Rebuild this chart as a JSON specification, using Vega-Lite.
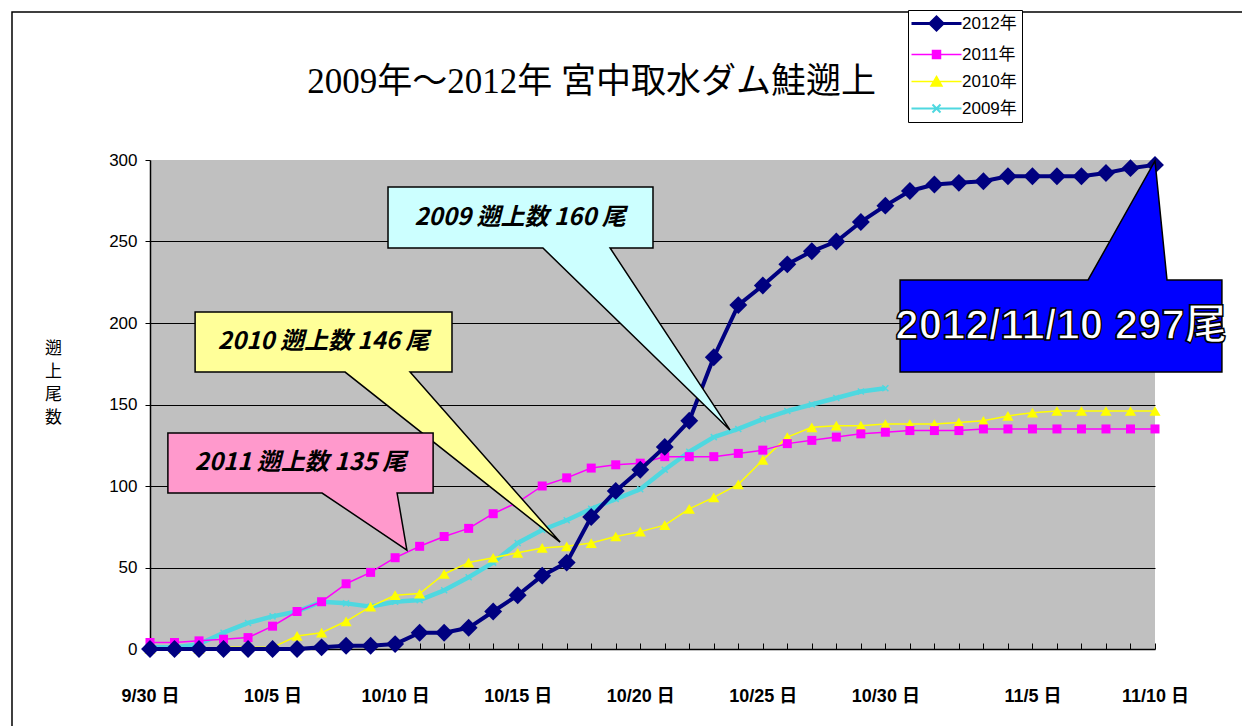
{
  "$schema": "https://vega.github.io/schema/vega-lite/v6.json",
  "width": 1005,
  "height": 489,
  "autosize": {"type": "none"},
  "padding": {"left": 150, "top": 160, "right": 87, "bottom": 77},
  "background": "white",
  "config": {
    "view": {"fill": "#C0C0C0", "stroke": null},
    "font": "Liberation Sans, Noto Sans CJK JP"
  },
  "title": {
    "text": "2009年～2012年 宮中取水ダム鮭遡上",
    "anchor": "middle",
    "dx": -61,
    "offset": -90,
    "font": "Liberation Serif, Noto Sans CJK JP",
    "fontSize": 35,
    "fontWeight": "normal",
    "color": "black"
  },
  "resolve": {"axis": {"x": "independent"}},
  "datasets": {
    "series": [
      {"series": "2012年", "day": 0, "count": 0}, {"series": "2012年", "day": 1, "count": 0}, {"series": "2012年", "day": 2, "count": 0}, {"series": "2012年", "day": 3, "count": 0}, {"series": "2012年", "day": 4, "count": 0}, {"series": "2012年", "day": 5, "count": 0}, {"series": "2012年", "day": 6, "count": 0}, {"series": "2012年", "day": 7, "count": 1}, {"series": "2012年", "day": 8, "count": 2}, {"series": "2012年", "day": 9, "count": 2},
      {"series": "2012年", "day": 10, "count": 3}, {"series": "2012年", "day": 11, "count": 10}, {"series": "2012年", "day": 12, "count": 10}, {"series": "2012年", "day": 13, "count": 13}, {"series": "2012年", "day": 14, "count": 23}, {"series": "2012年", "day": 15, "count": 33}, {"series": "2012年", "day": 16, "count": 45}, {"series": "2012年", "day": 17, "count": 53}, {"series": "2012年", "day": 18, "count": 81}, {"series": "2012年", "day": 19, "count": 97},
      {"series": "2012年", "day": 20, "count": 110}, {"series": "2012年", "day": 21, "count": 124}, {"series": "2012年", "day": 22, "count": 140}, {"series": "2012年", "day": 23, "count": 179}, {"series": "2012年", "day": 24, "count": 211}, {"series": "2012年", "day": 25, "count": 223}, {"series": "2012年", "day": 26, "count": 236}, {"series": "2012年", "day": 27, "count": 244}, {"series": "2012年", "day": 28, "count": 250}, {"series": "2012年", "day": 29, "count": 262},
      {"series": "2012年", "day": 30, "count": 272}, {"series": "2012年", "day": 31, "count": 281}, {"series": "2012年", "day": 32, "count": 285}, {"series": "2012年", "day": 33, "count": 286}, {"series": "2012年", "day": 34, "count": 287}, {"series": "2012年", "day": 35, "count": 290}, {"series": "2012年", "day": 36, "count": 290}, {"series": "2012年", "day": 37, "count": 290}, {"series": "2012年", "day": 38, "count": 290}, {"series": "2012年", "day": 39, "count": 292},
      {"series": "2012年", "day": 40, "count": 295}, {"series": "2012年", "day": 41, "count": 297},
      {"series": "2011年", "day": 0, "count": 4}, {"series": "2011年", "day": 1, "count": 4}, {"series": "2011年", "day": 2, "count": 5}, {"series": "2011年", "day": 3, "count": 6}, {"series": "2011年", "day": 4, "count": 7}, {"series": "2011年", "day": 5, "count": 14}, {"series": "2011年", "day": 6, "count": 23}, {"series": "2011年", "day": 7, "count": 29}, {"series": "2011年", "day": 8, "count": 40}, {"series": "2011年", "day": 9, "count": 47},
      {"series": "2011年", "day": 10, "count": 56}, {"series": "2011年", "day": 11, "count": 63}, {"series": "2011年", "day": 12, "count": 69}, {"series": "2011年", "day": 13, "count": 74}, {"series": "2011年", "day": 14, "count": 83}, {"series": "2011年", "day": 15, "count": 90}, {"series": "2011年", "day": 16, "count": 100}, {"series": "2011年", "day": 17, "count": 105}, {"series": "2011年", "day": 18, "count": 111}, {"series": "2011年", "day": 19, "count": 113},
      {"series": "2011年", "day": 20, "count": 114}, {"series": "2011年", "day": 21, "count": 118}, {"series": "2011年", "day": 22, "count": 118}, {"series": "2011年", "day": 23, "count": 118}, {"series": "2011年", "day": 24, "count": 120}, {"series": "2011年", "day": 25, "count": 122}, {"series": "2011年", "day": 26, "count": 126}, {"series": "2011年", "day": 27, "count": 128}, {"series": "2011年", "day": 28, "count": 130}, {"series": "2011年", "day": 29, "count": 132},
      {"series": "2011年", "day": 30, "count": 133}, {"series": "2011年", "day": 31, "count": 134}, {"series": "2011年", "day": 32, "count": 134}, {"series": "2011年", "day": 33, "count": 134}, {"series": "2011年", "day": 34, "count": 135}, {"series": "2011年", "day": 35, "count": 135}, {"series": "2011年", "day": 36, "count": 135}, {"series": "2011年", "day": 37, "count": 135}, {"series": "2011年", "day": 38, "count": 135}, {"series": "2011年", "day": 39, "count": 135},
      {"series": "2011年", "day": 40, "count": 135}, {"series": "2011年", "day": 41, "count": 135},
      {"series": "2010年", "day": 0, "count": 0}, {"series": "2010年", "day": 1, "count": 0}, {"series": "2010年", "day": 2, "count": 0}, {"series": "2010年", "day": 3, "count": 1}, {"series": "2010年", "day": 4, "count": 1}, {"series": "2010年", "day": 5, "count": 1}, {"series": "2010年", "day": 6, "count": 8}, {"series": "2010年", "day": 7, "count": 10}, {"series": "2010年", "day": 8, "count": 17}, {"series": "2010年", "day": 9, "count": 26},
      {"series": "2010年", "day": 10, "count": 33}, {"series": "2010年", "day": 11, "count": 34}, {"series": "2010年", "day": 12, "count": 46}, {"series": "2010年", "day": 13, "count": 53}, {"series": "2010年", "day": 14, "count": 56}, {"series": "2010年", "day": 15, "count": 59}, {"series": "2010年", "day": 16, "count": 62}, {"series": "2010年", "day": 17, "count": 63}, {"series": "2010年", "day": 18, "count": 65}, {"series": "2010年", "day": 19, "count": 69},
      {"series": "2010年", "day": 20, "count": 72}, {"series": "2010年", "day": 21, "count": 76}, {"series": "2010年", "day": 22, "count": 86}, {"series": "2010年", "day": 23, "count": 93}, {"series": "2010年", "day": 24, "count": 101}, {"series": "2010年", "day": 25, "count": 116}, {"series": "2010年", "day": 26, "count": 130}, {"series": "2010年", "day": 27, "count": 136}, {"series": "2010年", "day": 28, "count": 137}, {"series": "2010年", "day": 29, "count": 137},
      {"series": "2010年", "day": 30, "count": 138}, {"series": "2010年", "day": 31, "count": 138}, {"series": "2010年", "day": 32, "count": 138}, {"series": "2010年", "day": 33, "count": 139}, {"series": "2010年", "day": 34, "count": 140}, {"series": "2010年", "day": 35, "count": 143}, {"series": "2010年", "day": 36, "count": 145}, {"series": "2010年", "day": 37, "count": 146}, {"series": "2010年", "day": 38, "count": 146}, {"series": "2010年", "day": 39, "count": 146},
      {"series": "2010年", "day": 40, "count": 146}, {"series": "2010年", "day": 41, "count": 146},
      {"series": "2009年", "day": 0, "count": 1}, {"series": "2009年", "day": 1, "count": 1}, {"series": "2009年", "day": 2, "count": 3}, {"series": "2009年", "day": 3, "count": 10}, {"series": "2009年", "day": 4, "count": 16}, {"series": "2009年", "day": 5, "count": 20}, {"series": "2009年", "day": 6, "count": 23}, {"series": "2009年", "day": 7, "count": 29}, {"series": "2009年", "day": 8, "count": 28}, {"series": "2009年", "day": 9, "count": 26},
      {"series": "2009年", "day": 10, "count": 29}, {"series": "2009年", "day": 11, "count": 30}, {"series": "2009年", "day": 12, "count": 36}, {"series": "2009年", "day": 13, "count": 44}, {"series": "2009年", "day": 14, "count": 53}, {"series": "2009年", "day": 15, "count": 65}, {"series": "2009年", "day": 16, "count": 73}, {"series": "2009年", "day": 17, "count": 79}, {"series": "2009年", "day": 18, "count": 86}, {"series": "2009年", "day": 19, "count": 92},
      {"series": "2009年", "day": 20, "count": 98}, {"series": "2009年", "day": 21, "count": 110}, {"series": "2009年", "day": 22, "count": 121}, {"series": "2009年", "day": 23, "count": 130}, {"series": "2009年", "day": 24, "count": 135}, {"series": "2009年", "day": 25, "count": 141}, {"series": "2009年", "day": 26, "count": 146}, {"series": "2009年", "day": 27, "count": 150}, {"series": "2009年", "day": 28, "count": 154}, {"series": "2009年", "day": 29, "count": 158},
      {"series": "2009年", "day": 30, "count": 160}
    ],
    "callouts": [
      {"callout": "2009", "i": 0, "x": 9.71, "y": 283.4}, {"callout": "2009", "i": 1, "x": 20.52, "y": 283.4}, {"callout": "2009", "i": 2, "x": 20.52, "y": 246.0}, {"callout": "2009", "i": 3, "x": 18.77, "y": 246.0}, {"callout": "2009", "i": 4, "x": 23.66, "y": 134.4}, {"callout": "2009", "i": 5, "x": 16.03, "y": 246.0}, {"callout": "2009", "i": 6, "x": 9.71, "y": 246.0},
      {"callout": "2010", "i": 0, "x": 1.84, "y": 206.7}, {"callout": "2010", "i": 1, "x": 12.32, "y": 206.7}, {"callout": "2010", "i": 2, "x": 12.32, "y": 169.9}, {"callout": "2010", "i": 3, "x": 10.61, "y": 169.9}, {"callout": "2010", "i": 4, "x": 16.73, "y": 65.6}, {"callout": "2010", "i": 5, "x": 7.96, "y": 169.9}, {"callout": "2010", "i": 6, "x": 1.84, "y": 169.9},
      {"callout": "2011", "i": 0, "x": 0.73, "y": 132.5}, {"callout": "2011", "i": 1, "x": 11.55, "y": 132.5}, {"callout": "2011", "i": 2, "x": 11.55, "y": 95.7}, {"callout": "2011", "i": 3, "x": 10.08, "y": 95.7}, {"callout": "2011", "i": 4, "x": 10.48, "y": 60.7}, {"callout": "2011", "i": 5, "x": 7.02, "y": 95.7}, {"callout": "2011", "i": 6, "x": 0.73, "y": 95.7},
      {"callout": "2012", "i": 0, "x": 30.6, "y": 226.4}, {"callout": "2012", "i": 1, "x": 38.27, "y": 226.4}, {"callout": "2012", "i": 2, "x": 41.0, "y": 299.4}, {"callout": "2012", "i": 3, "x": 41.49, "y": 226.4}, {"callout": "2012", "i": 4, "x": 43.73, "y": 226.4}, {"callout": "2012", "i": 5, "x": 43.73, "y": 169.9}, {"callout": "2012", "i": 6, "x": 30.6, "y": 169.9}
    ],
    "labels": [
      {"callout": "2009", "text": "2009 遡上数  160 尾", "x": 15.1, "y": 264.7},
      {"callout": "2010", "text": "2010 遡上数  146 尾", "x": 7.08, "y": 188.3},
      {"callout": "2011", "text": "2011 遡上数  135 尾", "x": 6.14, "y": 114.1}
    ],
    "bigLabel": [
      {"callout": "2012", "text": "2012/11/10 297尾", "x": 37.17, "y": 198.2}
    ]
  },
  "layer": [
    {
      "data": {"values": [{"frame": "chart area"}]},
      "mark": {"type": "rect", "filled": false, "stroke": "black", "strokeWidth": 1.5, "clip": false},
      "encoding": {
        "x": {"datum": -5.63, "type": "quantitative", "axis": null},
        "x2": {"datum": 46},
        "y": {"datum": 390.8, "type": "quantitative"},
        "y2": {"datum": -60}
      }
    },
    {
      "data": {"name": "series"},
      "transform": [{"filter": "datum.series === '2009年'"}],
      "mark": {"type": "line", "strokeWidth": 4.5, "strokeJoin": "round"},
      "encoding": {
        "x": {
          "field": "day", "type": "quantitative",
          "scale": {"domain": [0, 41], "nice": false, "zero": false},
          "axis": {
            "orient": "bottom",
            "values": [0, 5, 10, 15, 20, 25, 30, 36, 41],
            "labelExpr": "{'0':'9/30 日','5':'10/5 日','10':'10/10 日','15':'10/15 日','20':'10/20 日','25':'10/25 日','30':'10/30 日','36':'11/5 日','41':'11/10 日'}[datum.value] || ''",
            "title": null,
            "grid": false,
            "ticks": false,
            "domainColor": "black",
            "domainWidth": 1.5,
            "labelFont": "Liberation Sans, Noto Sans CJK JP",
            "labelFontSize": 18,
            "labelFontWeight": "bold",
            "labelColor": "black",
            "labelPadding": 38,
            "labelOverlap": false,
            "labelFlush": false,
            "labelBound": false
          }
        },
        "y": {
          "field": "count", "type": "quantitative",
          "scale": {"domain": [0, 300], "nice": false},
          "axis": {
            "values": [0, 50, 100, 150, 200, 250, 300],
            "grid": true,
            "gridColor": {"condition": {"test": "datum.value === 300 || datum.value === 0", "value": "transparent"}, "value": "black"},
            "gridWidth": 1.2,
            "domainColor": "black",
            "domainWidth": 1.5,
            "tickColor": "black",
            "tickSize": 5,
            "labelFont": "Liberation Sans",
            "labelFontSize": 17,
            "labelColor": "black",
            "labelPadding": 8,
            "title": ["遡", "上", "尾", "数"],
            "titleAngle": 0,
            "titleX": -97,
            "titleY": 180,
            "titleAlign": "center",
            "titleBaseline": "top",
            "titleFont": "Noto Sans CJK JP",
            "titleFontSize": 17,
            "titleFontWeight": "normal",
            "titleLineHeight": 23,
            "titleColor": "black"
          }
        },
        "color": {
          "field": "series", "type": "nominal",
          "scale": {"domain": ["2012年", "2011年", "2010年", "2009年"], "range": ["#000080", "#FF00FF", "#FFFF00", "#4FD8E0"]},
          "legend": {
            "orient": "none",
            "legendX": 758,
            "legendY": -150,
            "title": null,
            "padding": 5,
            "strokeColor": "black",
            "fillColor": "white",
            "symbolSize": 400,
            "labelOffset": 32,
            "rowPadding": 9,
            "labelFont": "Liberation Sans, Noto Sans CJK JP",
            "labelFontSize": 17,
            "labelColor": "black",
            "encode": {
              "symbols": {
                "update": {
                  "shape": {"signal": "datum.value==='2012年'?'M-1,0L4,0M1.5,-0.65L2.15,0L1.5,0.65L0.85,0Z':datum.value==='2011年'?'M-1,0L4,0M1.1,-0.4L1.9,-0.4L1.9,0.4L1.1,0.4Z':datum.value==='2010年'?'M-1,0L4,0M1.5,-0.5L2.05,0.45L0.95,0.45Z':'M-1,0L4,0M1.1,-0.4L1.9,0.4M1.1,0.4L1.9,-0.4'"},
                  "fill": {"scale": "color", "field": "value"},
                  "stroke": {"scale": "color", "field": "value"},
                  "strokeWidth": {"signal": "datum.value==='2012年'?3:(datum.value==='2009年'?2:1.5)"},
                  "opacity": {"value": 1}
                }
              }
            }
          }
        }
      }
    },
    {
      "data": {"name": "series"},
      "transform": [{"filter": "datum.series === '2009年'"}],
      "mark": {"type": "point", "shape": "M-1,-1L1,1M-1,1L1,-1", "size": 36, "filled": false, "stroke": "#4FD8E0", "strokeWidth": 1.5, "opacity": 1},
      "encoding": {
        "x": {
          "field": "day", "type": "quantitative",
          "axis": {
            "orient": "bottom",
            "values": [0,1,2,3,4,5,6,7,8,9,10,11,12,13,14,15,16,17,18,19,20,21,22,23,24,25,26,27,28,29,30,31,32,33,34,35,36,37,38,39,40,41],
            "labels": false,
            "domain": false,
            "grid": false,
            "title": null,
            "tickColor": "black",
            "tickSize": -6,
            "tickWidth": 1
          }
        },
        "y": {"field": "count", "type": "quantitative"}
      }
    },
    {
      "data": {"name": "series"},
      "transform": [{"filter": "datum.series === '2010年'"}],
      "mark": {"type": "line", "strokeWidth": 1.5, "strokeJoin": "round"},
      "encoding": {
        "x": {"field": "day", "type": "quantitative", "axis": null},
        "y": {"field": "count", "type": "quantitative"},
        "color": {"field": "series", "type": "nominal"}
      }
    },
    {
      "data": {"name": "series"},
      "transform": [{"filter": "datum.series === '2010年'"}],
      "mark": {"type": "point", "shape": "triangle-up", "size": 125, "filled": true, "color": "#FFFF00", "opacity": 1},
      "encoding": {
        "x": {"field": "day", "type": "quantitative", "axis": null},
        "y": {"field": "count", "type": "quantitative"}
      }
    },
    {
      "data": {"name": "series"},
      "transform": [{"filter": "datum.series === '2011年'"}],
      "mark": {"type": "line", "strokeWidth": 1.5, "strokeJoin": "round"},
      "encoding": {
        "x": {"field": "day", "type": "quantitative", "axis": null},
        "y": {"field": "count", "type": "quantitative"},
        "color": {"field": "series", "type": "nominal"}
      }
    },
    {
      "data": {"name": "series"},
      "transform": [{"filter": "datum.series === '2011年'"}],
      "mark": {"type": "point", "shape": "square", "size": 81, "filled": true, "color": "#FF00FF", "opacity": 1},
      "encoding": {
        "x": {"field": "day", "type": "quantitative", "axis": null},
        "y": {"field": "count", "type": "quantitative"}
      }
    },
    {
      "data": {"name": "series"},
      "transform": [{"filter": "datum.series === '2012年'"}],
      "mark": {"type": "line", "strokeWidth": 4, "strokeJoin": "round"},
      "encoding": {
        "x": {"field": "day", "type": "quantitative", "axis": null},
        "y": {"field": "count", "type": "quantitative"},
        "color": {"field": "series", "type": "nominal"}
      }
    },
    {
      "data": {"name": "series"},
      "transform": [{"filter": "datum.series === '2012年'"}],
      "mark": {"type": "point", "shape": "diamond", "size": 320, "filled": true, "color": "#000080", "opacity": 1},
      "encoding": {
        "x": {"field": "day", "type": "quantitative", "axis": null},
        "y": {"field": "count", "type": "quantitative"}
      }
    },
    {
      "data": {"name": "callouts"},
      "mark": {"type": "line", "interpolate": "linear-closed", "stroke": "black", "strokeWidth": 1.5, "strokeJoin": "miter", "clip": false},
      "encoding": {
        "x": {"field": "x", "type": "quantitative", "axis": null},
        "y": {"field": "y", "type": "quantitative"},
        "order": {"field": "i", "type": "quantitative"},
        "detail": {"field": "callout", "type": "nominal"},
        "fill": {
          "field": "callout", "type": "nominal",
          "scale": {"domain": ["2009", "2010", "2011", "2012"], "range": ["#CCFFFF", "#FFFF99", "#FF99CC", "#0000FF"]},
          "legend": null
        }
      }
    },
    {
      "data": {"name": "labels"},
      "mark": {"type": "text", "font": "Noto Sans CJK JP", "fontSize": 24, "fontWeight": "bold", "fontStyle": "italic", "color": "black", "clip": false},
      "encoding": {
        "x": {"field": "x", "type": "quantitative", "axis": null},
        "y": {"field": "y", "type": "quantitative"},
        "text": {"field": "text", "type": "nominal"}
      }
    },
    {
      "data": {"name": "bigLabel"},
      "mark": {"type": "text", "font": "Liberation Sans, Noto Sans CJK JP", "fontSize": 42, "fontWeight": "bold", "fill": "white", "stroke": "black", "strokeWidth": 1.5, "clip": false},
      "encoding": {
        "x": {"field": "x", "type": "quantitative", "axis": null},
        "y": {"field": "y", "type": "quantitative"},
        "text": {"field": "text", "type": "nominal"}
      }
    }
  ]
}
